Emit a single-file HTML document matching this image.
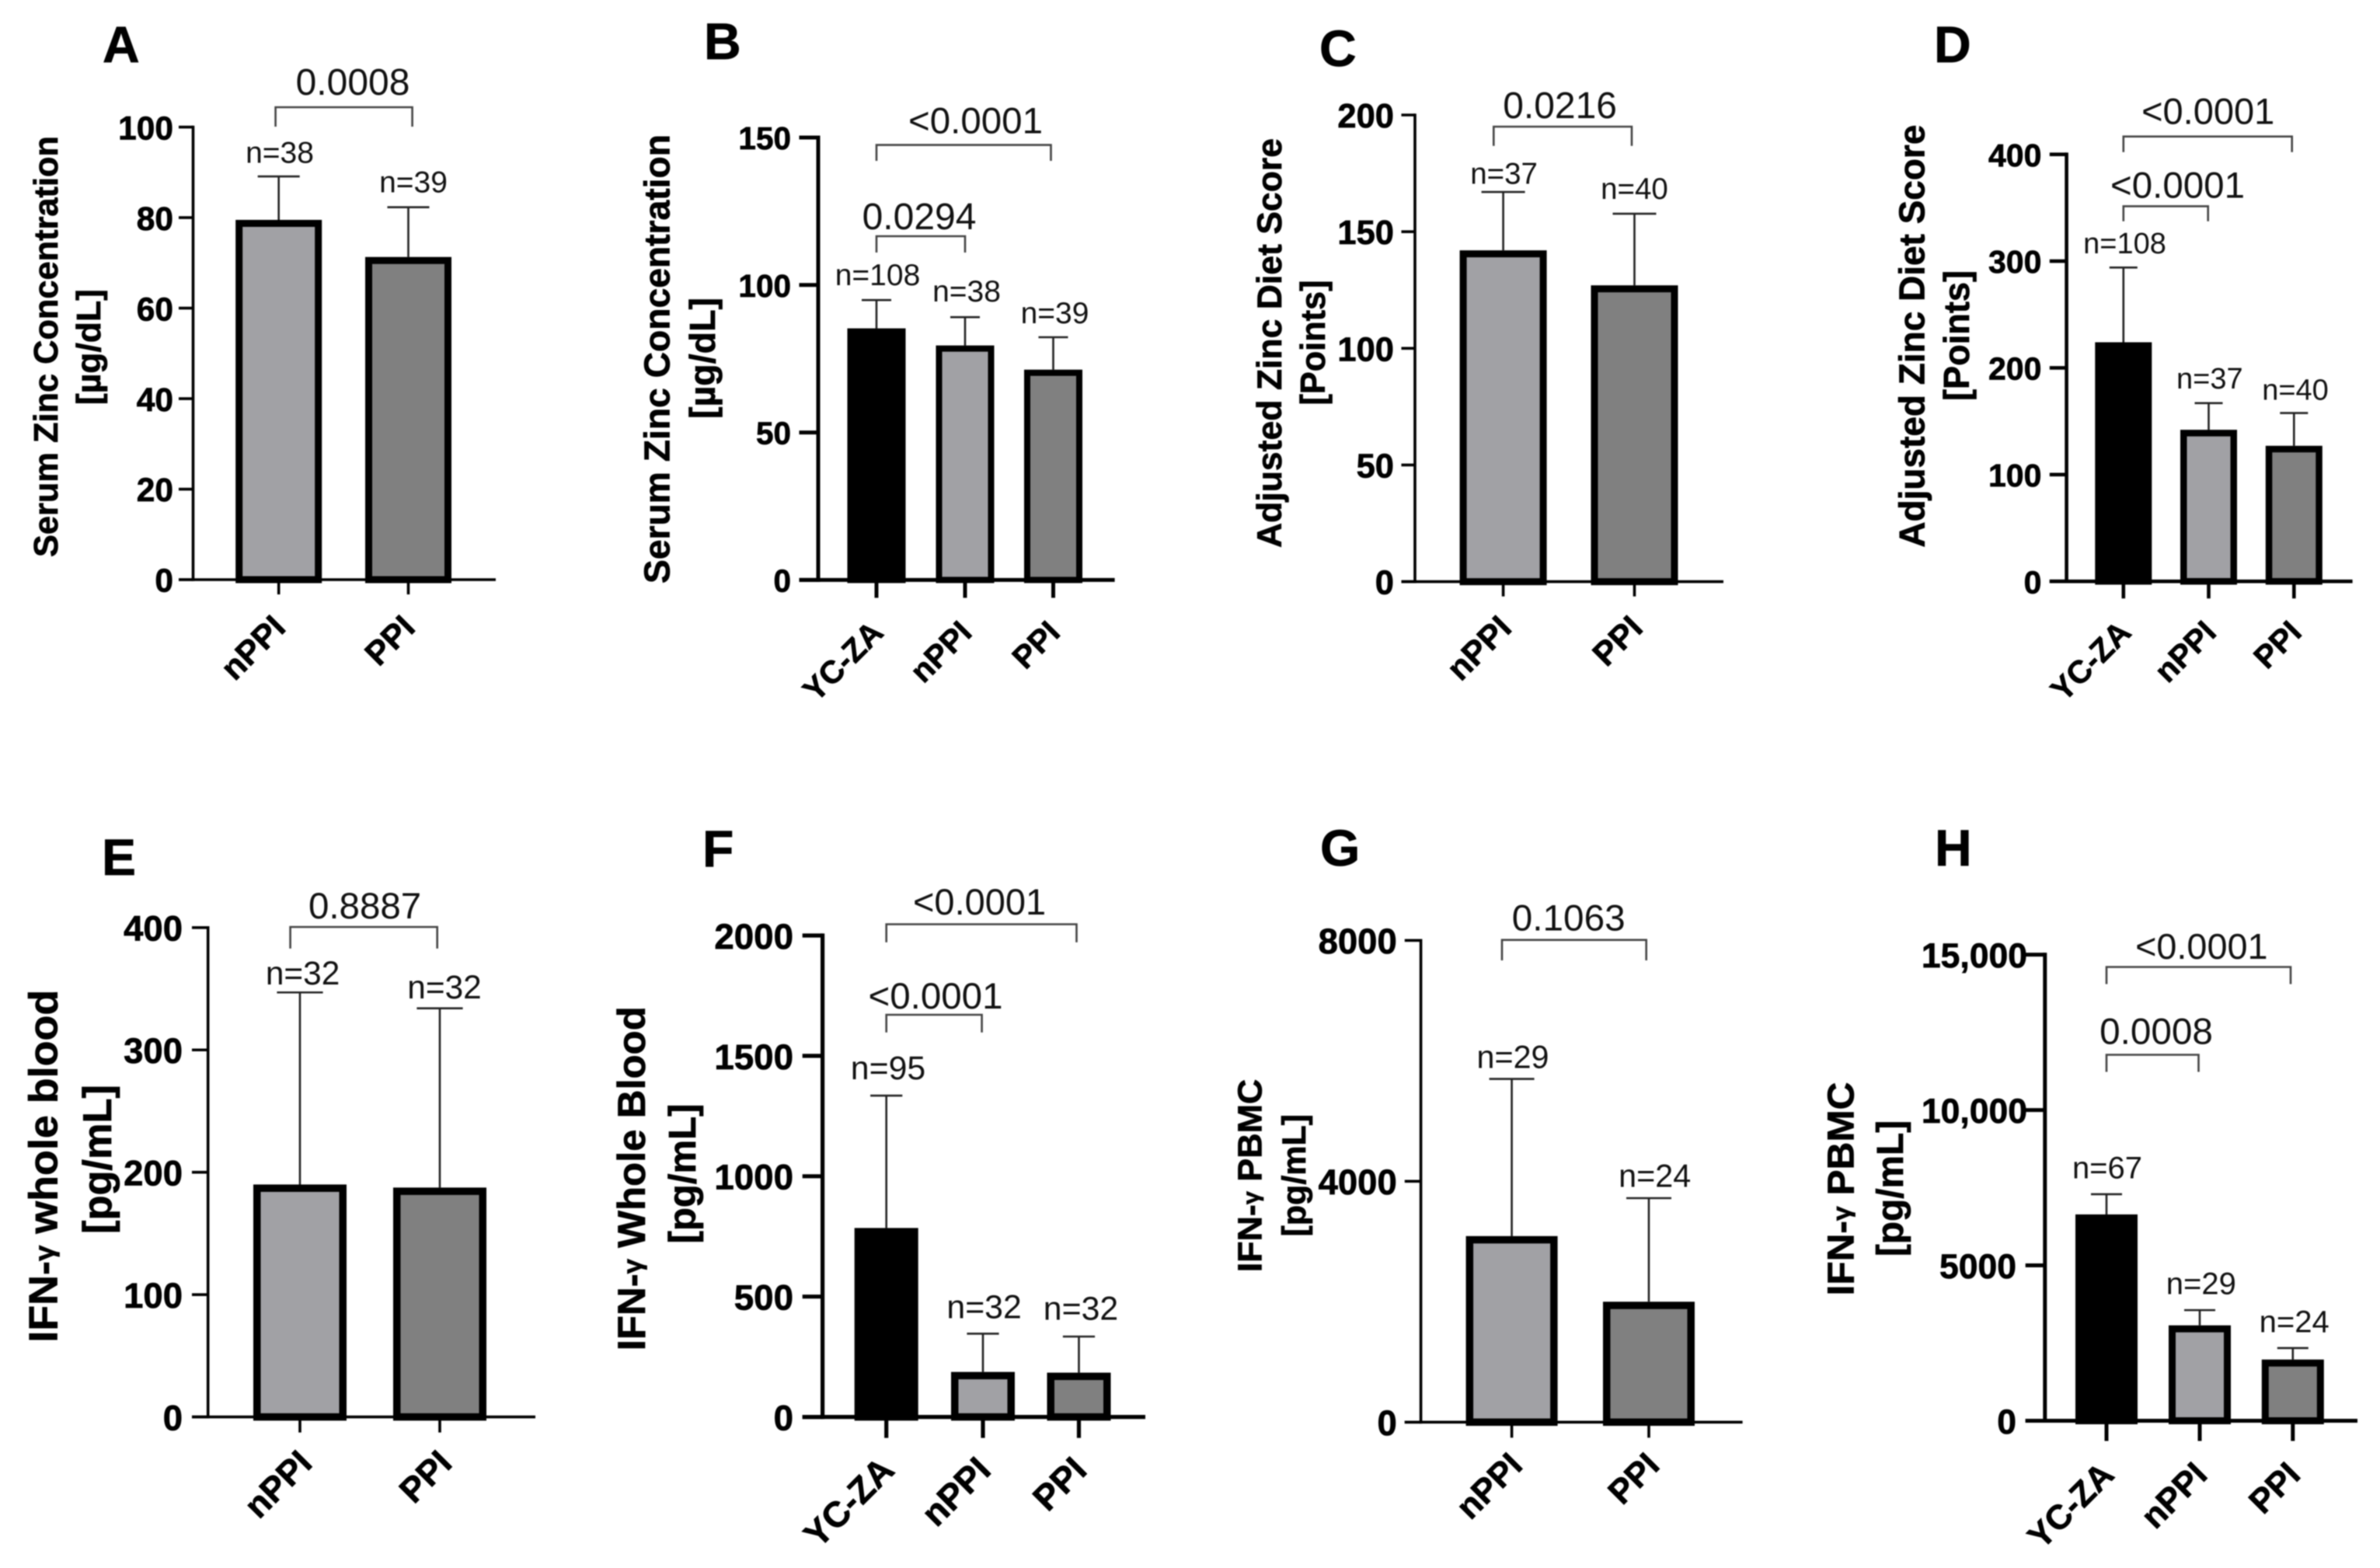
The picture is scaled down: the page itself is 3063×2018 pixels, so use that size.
<!DOCTYPE html>
<html lang="en">
<head>
<meta charset="utf-8">
<title>Zinc and IFN-γ bar charts</title>
<style>
html,body{margin:0;padding:0;background:#fff;width:3063px;height:2018px;overflow:hidden}
svg{display:block;filter:blur(0.7px)}
text{font-family:"Liberation Sans",sans-serif;fill:#111}
.bold{font-weight:700;fill:#000;stroke:#000;stroke-width:0.7px}
</style>
</head>
<body>
<svg id="figure" xmlns="http://www.w3.org/2000/svg" width="3063" height="2018" viewBox="0 0 3063 2018"></svg>
<script>
const groupsTwo = ['nPPI', 'PPI'];
const groupsThree = ['YC-ZA', 'nPPI', 'PPI'];

const valuesA = [79.5, 71.3];
const upperA = [89.1, 82.3];
const sizesA = [38, 39];
const ticksA = [0, 20, 40, 60, 80, 100];
const tickLabelsA = ['0', '20', '40', '60', '80', '100'];

const valuesB = [85.3, 79.5, 71.3];
const upperB = [94.9, 89.1, 82.3];
const sizesB = [108, 38, 39];
const ticksB = [0, 50, 100, 150];
const tickLabelsB = ['0', '50', '100', '150'];

const valuesC = [142, 127];
const upperC = [167, 157.7];
const sizesC = [37, 40];
const ticksC = [0, 50, 100, 150, 200];
const tickLabelsC = ['0', '50', '100', '150', '200'];

const valuesD = [224, 142, 127];
const upperD = [294, 167, 157.7];
const sizesD = [108, 37, 40];
const ticksD = [0, 100, 200, 300, 400];
const tickLabelsD = ['0', '100', '200', '300', '400'];

const valuesE = [190, 187.5];
const upperE = [347, 334];
const sizesE = [32, 32];
const ticksE = [0, 100, 200, 300, 400];
const tickLabelsE = ['0', '100', '200', '300', '400'];

const valuesF = [785, 187, 184];
const upperF = [1335, 346, 334];
const sizesF = [95, 32, 32];
const ticksF = [0, 500, 1000, 1500, 2000];
const tickLabelsF = ['0', '500', '1000', '1500', '2000'];

const valuesG = [3090, 2000];
const upperG = [5700, 3720];
const sizesG = [29, 24];
const ticksG = [0, 4000, 8000];
const tickLabelsG = ['0', '4000', '8000'];

const valuesH = [6640, 3070, 1970];
const upperH = [7290, 3560, 2340];
const sizesH = [67, 29, 24];
const ticksH = [0, 5000, 10000, 15000];
const tickLabelsH = ['0', '5000', '10,000', '15,000'];

const fills = {'YC-ZA': '#000000', 'nPPI': '#a1a1a5', 'PPI': '#808080'};

const panels = [
  {id:'A', cats:groupsTwo, values:valuesA, upper:upperA, sizes:sizesA, ticks:ticksA, tickLabels:tickLabelsA,
   letter:{x:132,y:80,fs:66}, axisX:248.5, y0:746, yTop:163.6, left:230, right:638, sw:3.6, xTick:19, centers:[358.7,525.5], barW:111, border:9, cap:27,
   tickFs:42.5, tickRight:223, xFs:43, xDx:11, xDy:64, nFs:39, nDx:[1.3,6.5], nGap:[17.5,19],
   title:{text:'Serum Zinc Concentration',x:74,cy:446,len:542,fs:44}, unit:{text:'[µg/dL]',x:129,cy:446.6,len:149,fs:44},
   brackets:[{x1:354.6,x2:530.6,top:138,bottom:163,label:'0.0008',tx:454,ty:122,fs:48}]},
  {id:'B', cats:groupsThree, values:valuesB, upper:upperB, sizes:sizesB, ticks:ticksB, tickLabels:tickLabelsB,
   letter:{x:906,y:76,fs:66}, axisX:1053, y0:746.4, yTop:177, left:1028.5, right:1434.6, sw:5, xTick:23, centers:[1128,1242,1355.5], barW:75, border:8, cap:19,
   tickFs:40.5, tickRight:1018, xFs:41, xDx:11, xDy:70, nFs:39, nDx:[1.5,2,2], nGap:[19.4,20,18],
   title:{text:'Serum Zinc Concentration',x:861.6,cy:462,len:578,fs:46}, unit:{text:'[µg/dL]',x:920,cy:461,len:156,fs:46},
   brackets:[{x1:1128,x2:1352.5,top:186.6,bottom:207,label:'<0.0001',tx:1255.5,ty:171.5,fs:47.5},
             {x1:1128,x2:1242,top:304,bottom:325,label:'0.0294',tx:1183,ty:295,fs:48}]},
  {id:'C', cats:groupsTwo, values:valuesC, upper:upperC, sizes:sizesC, ticks:ticksC, tickLabels:tickLabelsC,
   letter:{x:1698,y:85,fs:66}, axisX:1821, y0:748.6, yTop:148, left:1803.5, right:2218, sw:3.6, xTick:19, centers:[1934.6,2103.5], barW:112, border:9, cap:28,
   tickFs:43.5, tickRight:1794, xFs:43, xDx:13, xDy:62, nFs:38.5, nDx:[1,0], nGap:[10.4,19],
   title:{text:'Adjusted Zinc Diet Score',x:1649,cy:441.5,len:527,fs:44.5}, unit:{text:'[Points]',x:1705,cy:441,len:161,fs:44.5},
   brackets:[{x1:1922.3,x2:2100,top:163,bottom:187.7,label:'0.0216',tx:2007.6,ty:152,fs:48}]},
  {id:'D', cats:groupsThree, values:valuesD, upper:upperD, sizes:sizesD, ticks:ticksD, tickLabels:tickLabelsD,
   letter:{x:2489,y:80,fs:66}, axisX:2659.6, y0:748.2, yTop:198.7, left:2637.8, right:3027.6, sw:4.6, xTick:22, centers:[2732.8,2842.5,2952.3], barW:73, border:8.5, cap:18,
   tickFs:41, tickRight:2627.4, xFs:41, xDx:12, xDy:68, nFs:38, nDx:[1.7,1.3,1.7], nGap:[18.3,18.8,17],
   title:{text:'Adjusted Zinc Diet Score',x:2476.7,cy:432.6,len:544,fs:46}, unit:{text:'[Points]',x:2534,cy:432,len:168,fs:46},
   brackets:[{x1:2732.8,x2:2949.7,top:175.7,bottom:195.7,label:'<0.0001',tx:2841.7,ty:159.3,fs:47},
             {x1:2732.8,x2:2841.7,top:265.4,bottom:284.8,label:'<0.0001',tx:2802.5,ty:254.5,fs:47.5}]},
  {id:'E', cats:groupsTwo, values:valuesE, upper:upperE, sizes:sizesE, ticks:ticksE, tickLabels:tickLabelsE,
   letter:{x:131,y:1126,fs:66}, axisX:267.7, y0:1823.6, yTop:1193.8, left:247, right:689, sw:3.6, xTick:20, centers:[386,566], barW:120, border:9.5, cap:29.6,
   tickFs:45.5, tickRight:235, xFs:45, xDx:18, xDy:62, nFs:42.4, nDx:[3.6,6], nGap:[10.3,12.5],
   title:{text:'IFN-γ whole blood',x:73.6,cy:1500.7,len:454,fs:52}, unit:{text:'[pg/mL]',x:143,cy:1492,len:192,fs:52},
   brackets:[{x1:373.6,x2:562.7,top:1193,bottom:1220.7,label:'0.8887',tx:469.6,ty:1182,fs:47.5}]},
  {id:'F', cats:groupsThree, values:valuesF, upper:upperF, sizes:sizesF, ticks:ticksF, tickLabels:tickLabelsF,
   letter:{x:904,y:1115,fs:66}, axisX:1058.6, y0:1823.6, yTop:1204, left:1032.7, right:1474, sw:5.2, xTick:27, centers:[1140.7,1265,1388.5], barW:82, border:9.5, cap:20.6,
   tickFs:45.7, tickRight:1021, xFs:46, xDx:12.5, xDy:71, nFs:42.8, nDx:[2.3,1.6,2.5], nGap:[21,20,21.4],
   title:{text:'IFN-γ Whole Blood',x:830,cy:1516.7,len:443,fs:50}, unit:{text:'[pg/mL]',x:895,cy:1510.5,len:180,fs:49},
   brackets:[{x1:1140.7,x2:1385.5,top:1189.5,bottom:1212.7,label:'<0.0001',tx:1260.6,ty:1177,fs:47},
             {x1:1140.7,x2:1263.6,top:1306,bottom:1328.8,label:'<0.0001',tx:1204,ty:1298,fs:47.5}]},
  {id:'G', cats:groupsTwo, values:valuesG, upper:upperG, sizes:sizesG, ticks:ticksG, tickLabels:tickLabelsG,
   letter:{x:1699,y:1114,fs:66}, axisX:1828.6, y0:1830.3, yTop:1210.3, left:1807.8, right:2242.6, sw:3.6, xTick:20, centers:[1945.6,2122], barW:118, border:9.5, cap:29,
   tickFs:45.5, tickRight:1797.8, xFs:44, xDx:16, xDy:58, nFs:41.3, nDx:[1.4,7.7], nGap:[14.2,14.5],
   title:{text:'IFN-γ PBMC',x:1623.7,cy:1513,len:248.6,fs:43.4}, unit:{text:'[pg/mL]',x:1680,cy:1512.7,len:157.7,fs:43},
   brackets:[{x1:1933,x2:2118.7,top:1209.7,bottom:1236,label:'0.1063',tx:2018.7,ty:1197.4,fs:47.7}]},
  {id:'H', cats:groupsThree, values:valuesH, upper:upperH, sizes:sizesH, ticks:ticksH, tickLabels:tickLabelsH,
   letter:{x:2490,y:1114,fs:66}, axisX:2631.8, y0:1828.5, yTop:1228.6, left:2606.7, right:3034, sw:5, xTick:26, centers:[2711,2831,2950.8], barW:80, border:9, cap:20,
   tickFs:44.5, tickRight:2595, commaNudge:14, xFs:44, xDx:12, xDy:72, nFs:40, nDx:[1,1.8,1.9], nGap:[20.3,20.8,20.5],
   title:{text:'IFN-γ PBMC',x:2385.4,cy:1530,len:275,fs:48}, unit:{text:'[pg/mL]',x:2449,cy:1529.5,len:175.3,fs:48},
   brackets:[{x1:2711,x2:2948,top:1244.5,bottom:1266.5,label:'<0.0001',tx:2833.3,ty:1234,fs:46.8},
             {x1:2711,x2:2829.5,top:1357.5,bottom:1379.5,label:'0.0008',tx:2775,ty:1343.4,fs:47.7}]}
];

const NS = 'http://www.w3.org/2000/svg';
const root = document.getElementById('figure');

function add(parent, tag, attrs, content) {
  const node = document.createElementNS(NS, tag);
  for (const key in attrs) node.setAttribute(key, attrs[key]);
  if (content !== undefined) node.textContent = content;
  parent.appendChild(node);
  return node;
}

function vLabel(g, spec, name) {
  const el = add(g, 'text', {x: spec.x, y: spec.cy, class: 'bold', 'font-size': spec.fs, 'text-anchor': 'middle',
    textLength: spec.len, lengthAdjust: 'spacingAndGlyphs',
    transform: 'rotate(-90 ' + spec.x + ' ' + spec.cy + ')'});
  const parts = spec.text.split('γ');
  add(el, 'tspan', {}, parts[0]);
  if (parts.length > 1) {
    add(el, 'tspan', {'font-size': spec.fs * 0.68, dy: -spec.fs * 0.09}, 'γ');
    add(el, 'tspan', {dy: spec.fs * 0.09}, parts[1]);
  }
  
  
}

panels.forEach(function (p) {
  const yMax = p.ticks[p.ticks.length - 1];
  const yScale = function (v) { return p.y0 - (v / yMax) * (p.y0 - p.yTop); };
  const xScale = function (i) { return p.centers[i]; };
  const key = p.id.toLowerCase();

  const g = add(root, 'g', {});
  
  

  const letter = add(g, 'text', {x: p.letter.x, y: p.letter.y, class: 'bold', 'font-size': p.letter.fs}, p.id);
  
  

  vLabel(g, p.title, 'y-axis-title-' + key);
  vLabel(g, p.unit, 'y-axis-unit-' + key);

  p.cats.forEach(function (cat, i) {
    const cx = xScale(i);
    const topY = yScale(p.values[i]);
    const upY = yScale(p.upper[i]);

    const stem = add(g, 'line', {x1: cx, x2: cx, y1: topY, y2: upY, stroke: '#222', 'stroke-width': 2.6});
    
    

    const cap = add(g, 'line', {x1: cx - p.cap, x2: cx + p.cap, y1: upY, y2: upY, stroke: '#222', 'stroke-width': 2.6});
    
    

    const bar = add(g, 'rect', {x: cx - p.barW / 2 + p.border / 2, y: topY + p.border / 2,
      width: p.barW - p.border, height: Math.max(0, p.y0 - topY - p.border / 2),
      fill: fills[cat], stroke: '#000', 'stroke-width': p.border});
    
    

    const nLabel = add(g, 'text', {x: cx + p.nDx[i], y: upY - p.nGap[i], 'font-size': p.nFs, 'text-anchor': 'middle'}, 'n=' + p.sizes[i]);
    
    

    const xTick = add(g, 'line', {x1: cx, x2: cx, y1: p.y0, y2: p.y0 + p.xTick, stroke: '#000', 'stroke-width': p.sw});
    
    

    const lx = cx + p.xDx;
    const ly = p.y0 + p.xDy;
    const xLabel = add(g, 'text', {x: lx, y: ly, class: 'bold', 'font-size': p.xFs, 'text-anchor': 'end',
      transform: 'rotate(-45 ' + lx + ' ' + ly + ')'}, cat);
    
    
  });

  const yAxis = add(g, 'line', {x1: p.axisX, x2: p.axisX, y1: p.yTop - p.sw / 2, y2: p.y0 + p.sw / 2, stroke: '#000', 'stroke-width': p.sw});
  
  

  const xAxis = add(g, 'line', {x1: p.left, x2: p.right, y1: p.y0, y2: p.y0, stroke: '#000', 'stroke-width': p.sw});
  
  

  p.ticks.forEach(function (t, i) {
    const ty = yScale(t);
    const tick = add(g, 'line', {x1: p.left, x2: p.axisX, y1: ty, y2: ty, stroke: '#000', 'stroke-width': p.sw});
    
    

    const label = p.tickLabels[i];
    const nudge = (p.commaNudge && label.indexOf(',') >= 0) ? p.commaNudge : 0;
    const tl = add(g, 'text', {x: p.tickRight + nudge, y: ty + p.tickFs * 0.37, class: 'bold', 'font-size': p.tickFs, 'text-anchor': 'end'}, label);
    
    
  });

  p.brackets.forEach(function (b, i) {
    const path = add(g, 'polyline', {points: b.x1 + ',' + b.bottom + ' ' + b.x1 + ',' + b.top + ' ' + b.x2 + ',' + b.top + ' ' + b.x2 + ',' + b.bottom,
      fill: 'none', stroke: '#444', 'stroke-width': 2.6});
    
    

    const pv = add(g, 'text', {x: b.tx, y: b.ty, 'font-size': b.fs, 'text-anchor': 'middle'}, b.label);
    
    
  });
});
</script>
</body>
</html>
